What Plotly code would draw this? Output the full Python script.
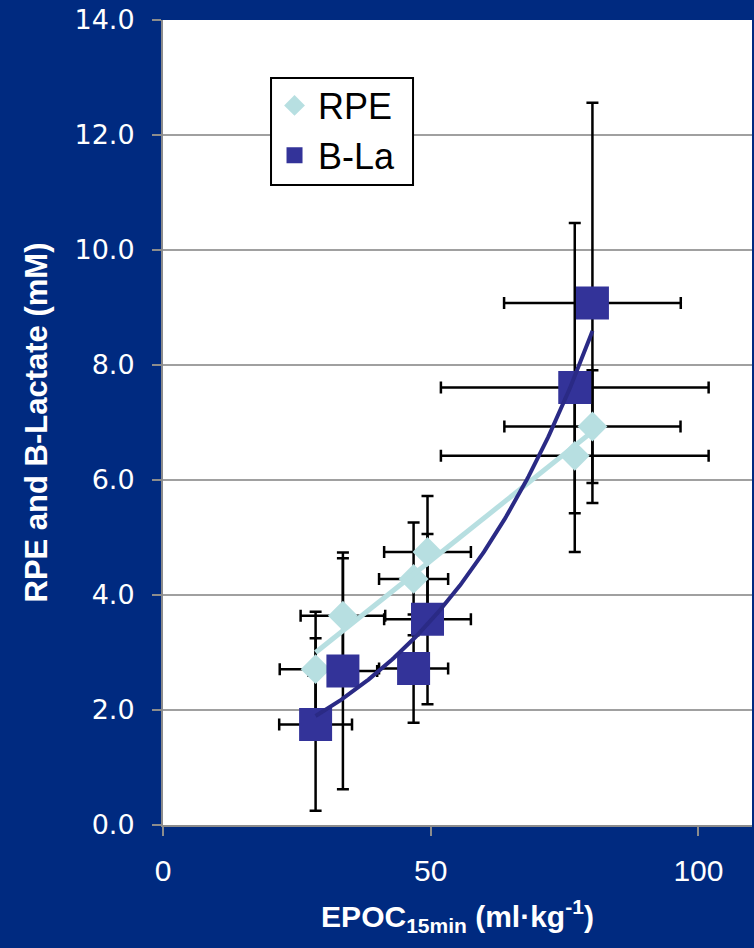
import numpy as np
import plotly.graph_objects as go

# EPOC (ml/kg) per condition, with RPE and blood lactate means and SDs
epoc = [28.5, 33.6, 46.8, 49.4, 76.9, 80.2]
rpe = [2.71, 3.64, 4.28, 4.75, 6.42, 6.93]
rpe_sd = [1.0, 1.0, 0.98, 0.97, 1.0, 0.98]
rpe_epoc_sd = [6.7, 7.9, 6.45, 8.1, 25.0, 16.45]
bla = [1.75, 2.68, 2.72, 3.58, 7.61, 9.08]
bla_sd = [1.5, 2.06, 0.94, 1.48, 2.86, 3.48]
bla_epoc_sd = [6.8, 6.4, 6.45, 8.1, 25.0, 16.5]

y_ticks = [0, 2, 4, 6, 8, 10, 12, 14]
x_ticks = [0, 50, 100]

NAVY = "#002A80"
RPE_COLOR = "#B7DFE1"
BLA_COLOR = "#333399"
BLA_TREND = "#2A2A85"
AXIS_GRAY = "#8C8C8C"
SANS = "Liberation Sans, Arial, sans-serif"

fig = go.Figure()


def error_layer(y, ey, ex):
    return go.Scatter(
        x=epoc, y=y, mode="markers",
        marker=dict(size=1, opacity=0),
        error_y=dict(type="data", array=ey, color="black", thickness=2.5, width=6),
        error_x=dict(type="data", array=ex, color="black", thickness=2.5, width=6),
        showlegend=False, hoverinfo="skip",
    )


# error bars sit underneath all markers
fig.add_trace(error_layer(rpe, rpe_sd, rpe_epoc_sd))
fig.add_trace(error_layer(bla, bla_sd, bla_epoc_sd))

fig.add_trace(go.Scatter(
    x=epoc, y=rpe, mode="markers", name="RPE", legendgroup="rpe",
    marker=dict(symbol="diamond", size=23, color=RPE_COLOR, line=dict(width=0)),
))
fig.add_trace(go.Scatter(
    x=epoc, y=bla, mode="markers", name="B-La", legendgroup="bla",
    marker=dict(symbol="square", size=33, color=BLA_COLOR, line=dict(width=0)),
))

# trendlines: linear for RPE, exponential for blood lactate
xs = np.linspace(min(epoc), max(epoc), 200)
m_r, b_r = np.polyfit(epoc, rpe, 1)
m_l, b_l = np.polyfit(epoc, np.log(bla), 1)

fig.add_trace(go.Scatter(
    x=xs, y=m_r * xs + b_r, mode="lines",
    line=dict(color=RPE_COLOR, width=5), showlegend=False, hoverinfo="skip",
))
fig.add_trace(go.Scatter(
    x=xs, y=np.exp(b_l) * np.exp(m_l * xs), mode="lines",
    line=dict(color=BLA_TREND, width=4), showlegend=False, hoverinfo="skip",
))

# boxed legend frame (the legend itself is drawn transparent on top)
fig.add_shape(
    type="rect", xref="paper", yref="paper",
    x0=0.1834, x1=0.4245, y0=0.7950, y1=0.9280,
    fillcolor="white", line=dict(color="black", width=2), layer="above",
)

fig.update_layout(
    width=754, height=948,
    margin=dict(l=163, r=2, t=20, b=123),
    paper_bgcolor=NAVY, plot_bgcolor="white",
    font=dict(family=SANS, color="white"),
    legend=dict(
        x=0.1834, y=0.931, xanchor="left", yanchor="top",
        bgcolor="rgba(0,0,0,0)", borderwidth=0,
        font=dict(family=SANS, size=36, color="black"),
        traceorder="grouped", tracegroupgap=0, itemwidth=37,
    ),
)

fig.update_xaxes(
    range=[0, 110], tickvals=x_ticks, ticks="outside", ticklen=9, tickwidth=2,
    tickcolor=AXIS_GRAY, showline=True, linecolor=AXIS_GRAY, linewidth=2,
    showgrid=False, zeroline=False, automargin=False,
    tickfont=dict(family=SANS, size=30, color="white"),
    ticklabelstandoff=9,
    title=dict(
        text="<b>EPOC<sub>15min</sub> (ml·kg<sup>-1</sup>)</b>",
        font=dict(family=SANS, size=30, color="white"),
        standoff=20,
    ),
)
fig.update_yaxes(
    range=[0, 14], tickvals=y_ticks, tickformat=".1f", ticks="outside", ticklen=9,
    tickwidth=2, tickcolor=AXIS_GRAY, showline=True, linecolor=AXIS_GRAY, linewidth=2,
    showgrid=True, gridcolor="#A0A0A0", gridwidth=1.5, zeroline=False, automargin=False,
    tickfont=dict(family="DejaVu Sans, sans-serif", size=27, color="white"),
    ticklabelstandoff=12,
    title=dict(
        text="<b>RPE and B-Lactate (mM)</b>",
        font=dict(family=SANS, size=31, color="white"),
        standoff=18,
    ),
)

fig.write_html("out.html")
